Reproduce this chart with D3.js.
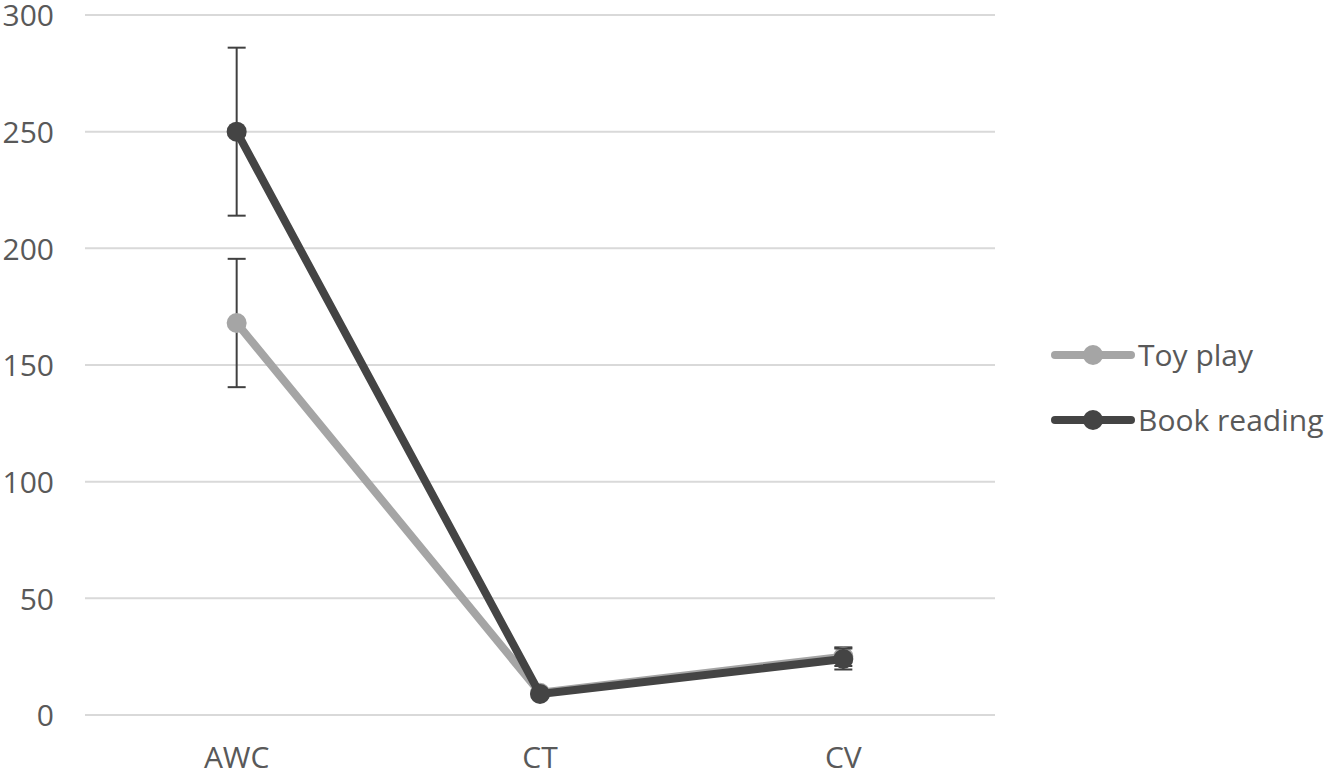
<!DOCTYPE html>
<html><head><meta charset="utf-8">
<script src="https://cdn.jsdelivr.net/npm/d3@7"></script>
<style>body{margin:0;background:#fff;} svg{display:block;}</style>
</head><body>
<svg id="c" width="1325" height="773"></svg>
<script>
const categories = ["AWC", "CT", "CV"];
const seriesNames = ["Toy play", "Book reading"];
const toyPlay = [168, 9.5, 25];
const toyPlayErr = [27.5, 1, 4];
const bookReading = [250, 9, 24];
const bookReadingErr = [36, 1, 4.5];
const yTicks = [0, 50, 100, 150, 200, 250, 300];
const colors = ["#A5A5A5", "#444444"];

(function () {
const svg = d3.select("#c");
const FONT = "'Open Sans', 'Noto Sans', sans-serif";
const pLeft = 85, pRight = 995, pTop = 15, pBottom = 715;
const x = d3.scaleBand().domain(categories).range([pLeft, pRight]);
const y = d3.scaleLinear().domain([0, 300]).range([pBottom, pTop]);
const cx = c => x(c) + x.bandwidth() / 2;

// gridlines
svg.append("g").selectAll("line").data(yTicks).join("line")
  .attr("x1", pLeft).attr("x2", pRight)
  .attr("y1", d => y(d)).attr("y2", d => y(d))
  .attr("stroke", "#D9D9D9").attr("stroke-width", 2);

// y axis labels
const yAxis = d3.axisLeft(y).tickValues(yTicks).tickSize(0).tickPadding(0);
const ga = svg.append("g").attr("transform", `translate(54,0)`).call(yAxis);
ga.select(".domain").remove();
ga.selectAll("text").attr("font-family", FONT)
  .attr("font-size", 30).attr("fill", "#595959").attr("dy", "0.36em");

// x axis labels
const xAxis = d3.axisBottom(x).tickSize(0).tickPadding(0);
const gx = svg.append("g").attr("transform", `translate(0,0)`).call(xAxis);
gx.select(".domain").remove();
gx.selectAll("text").attr("font-family", FONT)
  .attr("font-size", 30).attr("fill", "#595959").attr("y", 768).attr("dy", 0);

const series = [
  {name: seriesNames[0], vals: toyPlay, err: toyPlayErr, color: colors[0]},
  {name: seriesNames[1], vals: bookReading, err: bookReadingErr, color: colors[1]}
];

const line = d3.line().x((d, i) => cx(categories[i])).y(d => y(d));

series.forEach(s => {
  const g = svg.append("g");
  const eb = g.append("g");
  s.vals.forEach((v, i) => {
    const xc = cx(categories[i]);
    eb.append("line").attr("x1", xc).attr("x2", xc)
      .attr("y1", y(v - s.err[i])).attr("y2", y(v + s.err[i]))
      .attr("stroke", "#404040").attr("stroke-width", 2);
    [v - s.err[i], v + s.err[i]].forEach(e => {
      eb.append("line").attr("x1", xc - 9).attr("x2", xc + 9)
        .attr("y1", y(e)).attr("y2", y(e))
        .attr("stroke", "#404040").attr("stroke-width", 2);
    });
  });
  g.append("path").datum(s.vals).attr("d", line)
    .attr("fill", "none").attr("stroke", s.color).attr("stroke-width", 8)
    .attr("stroke-linejoin", "round");
  g.selectAll("circle").data(s.vals).join("circle")
    .attr("cx", (d, i) => cx(categories[i])).attr("cy", d => y(d))
    .attr("r", 10).attr("fill", s.color);
});

// legend
const leg = svg.append("g");
series.forEach((s, i) => {
  const ly = 355 + i * 65;
  leg.append("line").attr("x1", 1055).attr("x2", 1131).attr("y1", ly).attr("y2", ly)
    .attr("stroke", s.color).attr("stroke-width", 8).attr("stroke-linecap", "round");
  leg.append("circle").attr("cx", 1093).attr("cy", ly).attr("r", 10).attr("fill", s.color);
  leg.append("text").attr("x", 1138).attr("y", ly).attr("dy", "0.36em")
    .attr("font-family", FONT)
    .attr("font-size", 30).attr("fill", "#595959").text(s.name);
});
})();
</script>
</body></html>
